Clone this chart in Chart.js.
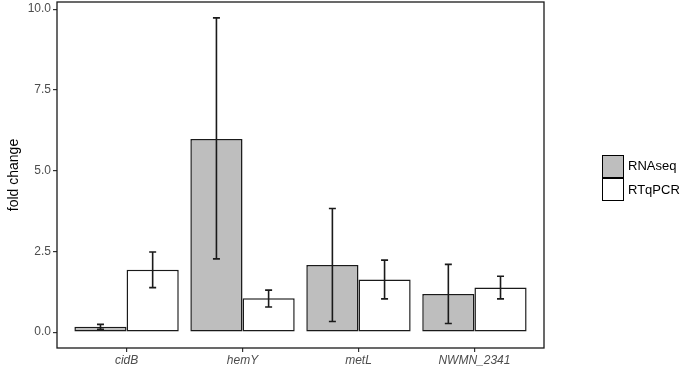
<!DOCTYPE html>
<html>
<head>
<meta charset="utf-8">
<script src="https://cdn.jsdelivr.net/npm/chart.js@4"></script>
<style>
html,body{margin:0;padding:0;background:#fff;}
#wrap{position:relative;width:680px;height:369px;}
canvas{position:absolute;left:0;top:0;}
.leg{position:absolute;font-family:"Liberation Sans",Arial,sans-serif;font-size:13px;color:#000;}
.box{position:absolute;width:22px;height:23px;border:1px solid #000;box-sizing:border-box;}
</style>
</head>
<body>
<div id="wrap">
<canvas id="c" width="680" height="369"></canvas>
<div class="box" style="left:602px;top:155px;background:#bebebe;"></div>
<div class="leg" style="left:628px;top:158px;">RNAseq</div>
<div class="box" style="left:602px;top:178px;background:#fff;"></div>
<div class="leg" style="left:628px;top:182px;">RTqPCR</div>
</div>
<script>
const categories = ["cidB", "hemY", "metL", "NWMN_2341"];
const seriesNames = ["RNAseq", "RTqPCR"];
const rnaseqValues = [0.17, 5.98, 2.08, 1.18];
const rnaseqLow = [0.09, 2.27, 0.33, 0.27];
const rnaseqHigh = [0.24, 9.73, 3.83, 2.10];
const rtqpcrValues = [1.93, 1.05, 1.63, 1.38];
const rtqpcrLow = [1.38, 0.78, 1.03, 1.03];
const rtqpcrHigh = [2.48, 1.30, 2.23, 1.73];
const yTicks = [0, 2.5, 5, 7.5, 10];

const toPoints = vals => vals.map((v, i) => ({x: i + 1, y: v}));

const errorBars = {
  id: 'errorBars',
  afterDatasetsDraw(chart) {
    const ctx = chart.ctx;
    const ys = chart.scales.y;
    chart.data.datasets.forEach((ds, di) => {
      const meta = chart.getDatasetMeta(di);
      meta.data.forEach((bar, i) => {
        const lo = ys.getPixelForValue(ds.errLow[i]);
        const hi = ys.getPixelForValue(ds.errHigh[i]);
        const x = bar.x;
        ctx.save();
        ctx.strokeStyle = '#1a1a1a';
        ctx.lineWidth = 1.6;
        ctx.beginPath();
        ctx.moveTo(x, lo); ctx.lineTo(x, hi);
        ctx.moveTo(x - 3.5, lo); ctx.lineTo(x + 3.5, lo);
        ctx.moveTo(x - 3.5, hi); ctx.lineTo(x + 3.5, hi);
        ctx.stroke();
        ctx.restore();
      });
    });
  }
};

const panelBox = {
  id: 'panelBox',
  afterDraw(chart) {
    const a = chart.chartArea;
    const ctx = chart.ctx;
    ctx.save();
    ctx.strokeStyle = '#1a1a1a';
    ctx.lineWidth = 1.3;
    ctx.strokeRect(a.left, a.top, a.right - a.left, a.bottom - a.top);
    ctx.restore();
  }
};

new Chart(document.getElementById('c'), {
  type: 'bar',
  data: {
    datasets: [
      {label: seriesNames[0], data: toPoints(rnaseqValues), errLow: rnaseqLow, errHigh: rnaseqHigh,
       backgroundColor: '#bebebe', borderColor: '#1a1a1a', borderWidth: 1.5, borderSkipped: false},
      {label: seriesNames[1], data: toPoints(rtqpcrValues), errLow: rtqpcrLow, errHigh: rtqpcrHigh,
       backgroundColor: '#ffffff', borderColor: '#1a1a1a', borderWidth: 1.5, borderSkipped: false}
    ]
  },
  options: {
    responsive: false,
    animation: false,
    layout: {padding: {left: 0, right: 136, top: 2, bottom: 0}},
    plugins: {legend: {display: false}, tooltip: {enabled: false}},
    datasets: {bar: {categoryPercentage: 0.9, barPercentage: 1.0}},
    scales: {
      x: {
        type: 'linear',
        min: 0.4, max: 4.6,
        offset: false,
        afterBuildTicks: s => { s.ticks = categories.map((c, i) => ({value: i + 1})); },
        afterFit: s => { s.height = 21; s.paddingLeft = 0; s.paddingRight = 0; },
        ticks: {
          autoSkip: false, maxRotation: 0, padding: 1,
          callback: v => categories[Math.round(v) - 1] || '',
          color: '#4d4d4d',
          font: {family: '"Liberation Sans", Arial, sans-serif', size: 12, style: 'italic'}
        },
        grid: {offset: false, drawOnChartArea: false, drawTicks: true, tickLength: 4, color: '#333', lineWidth: 1.2},
        border: {display: false}
      },
      y: {
        min: -0.49, max: 10.22,
        afterBuildTicks: s => { s.ticks = yTicks.map(v => ({value: v})); },
        afterFit: s => { s.width = 57; s.paddingTop = 0; s.paddingBottom = 0; },
        ticks: {
          padding: 2,
          callback: v => v.toFixed(1),
          color: '#4d4d4d',
          font: {family: '"Liberation Sans", Arial, sans-serif', size: 12}
        },
        grid: {drawOnChartArea: false, drawTicks: true, tickLength: 4, color: '#333', lineWidth: 1.2},
        border: {display: false},
        title: {display: true, text: 'fold change', color: '#000',
          font: {family: '"Liberation Sans", Arial, sans-serif', size: 14}, padding: {top: 6, bottom: 0}}
      }
    }
  },
  plugins: [errorBars, panelBox]
});
</script>
</body>
</html>
